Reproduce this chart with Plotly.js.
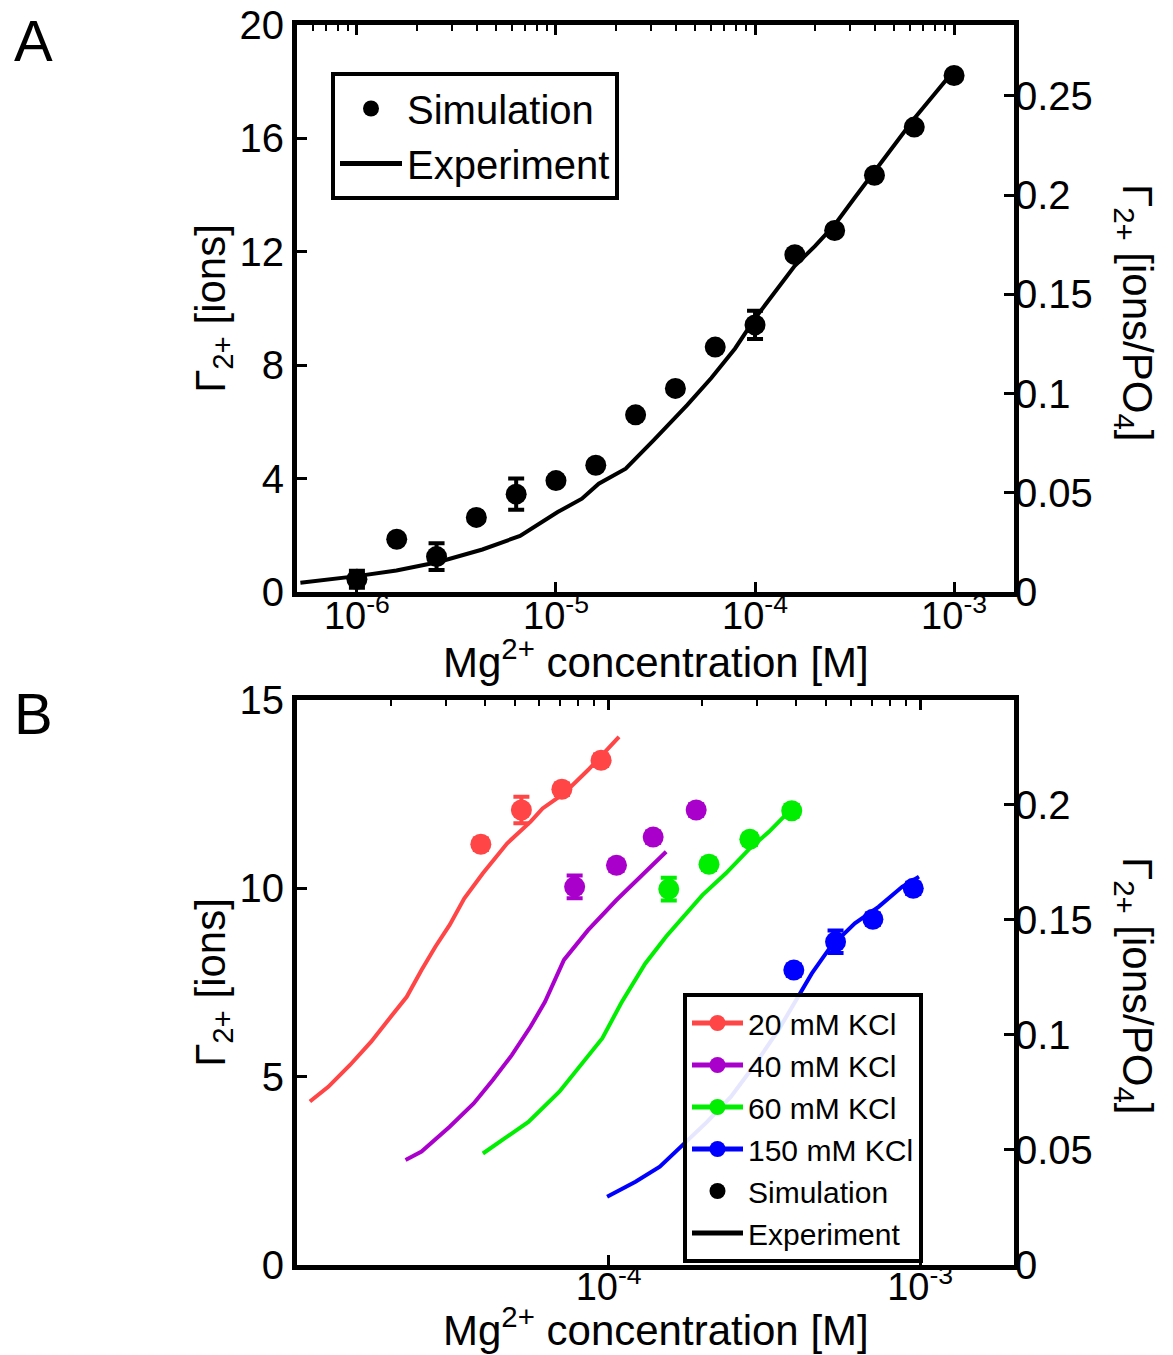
<!DOCTYPE html>
<html><head><meta charset="utf-8">
<script src="https://cdn.plot.ly/plotly-3.0.1.min.js"></script>
<style>html,body{margin:0;padding:0;background:#fff}#plot{width:1173px;height:1355px}</style>
</head><body><div id="plot"></div>
<script>
// ---------- Panel A data ----------
const simA_x = [1e-6, 1.585e-6, 2.512e-6, 3.981e-6, 6.310e-6, 1e-5, 1.585e-5, 2.512e-5, 3.981e-5, 6.310e-5, 1e-4, 1.585e-4, 2.512e-4, 3.981e-4, 6.310e-4, 1e-3];
const simA_y = [0.45, 1.86, 1.25, 2.63, 3.45, 3.93, 4.47, 6.25, 7.18, 8.64, 9.42, 11.9, 12.75, 14.7, 16.4, 18.22];
const simA_err = [0.3, 0.15, 0.47, 0.15, 0.55, 0.15, 0.15, 0.15, 0.15, 0.15, 0.5, 0.15, 0.15, 0.15, 0.15, 0.15];
const expA_x = [5.2e-7, 1.0e-6, 1.58e-6, 2.57e-6, 4.27e-6, 6.6e-6, 1.02e-5, 1.35e-5, 1.64e-5, 2.24e-5, 3.09e-5, 4.57e-5, 6.03e-5, 7.94e-5, 1.0e-4, 1.26e-4, 1.58e-4, 2.0e-4, 2.51e-4, 3.16e-4, 3.98e-4, 5.0e-4, 6.31e-4, 7.94e-4, 1.0e-3];
const expA_y = [0.33, 0.56, 0.76, 1.06, 1.5, 1.98, 2.82, 3.29, 3.82, 4.35, 5.35, 6.6, 7.55, 8.59, 9.65, 10.6, 11.5, 12.2, 12.95, 13.9, 14.85, 15.8, 16.7, 17.55, 18.4];

// ---------- Panel B data ----------
const seriesNames = ['20 mM KCl', '40 mM KCl', '60 mM KCl', '150 mM KCl'];
const seriesColors = ['#ff4545', '#aa00cc', '#00ee00', '#0000ff'];

const red_exp_x = [1.10e-5, 1.26e-5, 1.48e-5, 1.73e-5, 2.0e-5, 2.25e-5, 2.51e-5, 2.78e-5, 3.09e-5, 3.44e-5, 3.95e-5, 4.72e-5, 5.62e-5, 6.14e-5, 7.19e-5, 8.59e-5, 1.08e-4];
const red_exp_y = [4.34, 4.73, 5.31, 5.93, 6.59, 7.12, 7.83, 8.45, 9.03, 9.73, 10.4, 11.19, 11.77, 12.12, 12.52, 13.14, 14.02];
const purple_exp_x = [2.23e-5, 2.51e-5, 3.09e-5, 3.69e-5, 4.25e-5, 4.89e-5, 5.62e-5, 6.25e-5, 7.19e-5, 8.59e-5, 1.06e-4, 1.26e-4, 1.53e-4];
const purple_exp_y = [2.79, 3.01, 3.67, 4.29, 4.91, 5.57, 6.33, 6.99, 8.1, 8.89, 9.69, 10.31, 10.97];
const green_exp_x = [3.95e-5, 4.56e-5, 5.53e-5, 6.95e-5, 8.0e-5, 9.55e-5, 1.10e-4, 1.31e-4, 1.53e-4, 1.80e-4, 2.0e-4, 2.38e-4, 2.84e-4, 3.27e-4, 3.70e-4];
const green_exp_y = [2.96, 3.32, 3.8, 4.6, 5.22, 6.02, 6.97, 8.0, 8.72, 9.38, 9.82, 10.4, 11.06, 11.5, 11.95];
const blue_exp_x = [9.89e-5, 1.22e-4, 1.46e-4, 1.73e-4, 2.07e-4, 2.47e-4, 2.94e-4, 3.51e-4, 4.04e-4, 4.49e-4, 5.16e-4, 6.17e-4, 7.35e-4, 8.75e-4, 9.91e-4];
const blue_exp_y = [1.81, 2.21, 2.61, 3.19, 3.8, 4.47, 5.31, 6.24, 7.12, 7.74, 8.45, 9.07, 9.51, 10.04, 10.31];

const red_sim_x = [3.89e-5, 5.25e-5, 7.08e-5, 9.46e-5];
const red_sim_y = [11.17, 12.08, 12.63, 13.4];
const red_sim_err = [0.15, 0.35, 0.15, 0.15];
const purple_sim_x = [7.78e-5, 1.06e-4, 1.39e-4, 1.91e-4];
const purple_sim_y = [10.04, 10.61, 11.36, 12.08];
const purple_sim_err = [0.3, 0.15, 0.15, 0.15];
const green_sim_x = [1.56e-4, 2.10e-4, 2.84e-4, 3.87e-4];
const green_sim_y = [9.98, 10.64, 11.3, 12.06];
const green_sim_err = [0.3, 0.15, 0.15, 0.15];
const blue_sim_x = [3.93e-4, 5.35e-4, 7.05e-4, 9.50e-4];
const blue_sim_y = [7.83, 8.58, 9.18, 10.0];
const blue_sim_err = [0.15, 0.3, 0.15, 0.15];

const expB = [[red_exp_x, red_exp_y], [purple_exp_x, purple_exp_y], [green_exp_x, green_exp_y], [blue_exp_x, blue_exp_y]];
const simB = [[red_sim_x, red_sim_y, red_sim_err], [purple_sim_x, purple_sim_y, purple_sim_err], [green_sim_x, green_sim_y, green_sim_err], [blue_sim_x, blue_sim_y, blue_sim_err]];

// ticks
const majorA = [1e-6, 1e-5, 1e-4, 1e-3];
const majorA_text = ['10<sup>-6</sup>', '10<sup>-5</sup>', '10<sup>-4</sup>', '10<sup>-3</sup>'];
const majorB = [1e-4, 1e-3];
const majorB_text = ['10<sup>-4</sup>', '10<sup>-3</sup>'];
const minorTicks = [];
for (let d = -7; d <= -3; d++) for (let m = 2; m <= 9; m++) minorTicks.push(m * Math.pow(10, d));

const xTitle = 'Mg<sup>2+</sup> concentration [M]';
const yTitleL = 'Γ<sub>2+</sub> [ions]';
const yTitleR = 'Γ<sub>2+</sub> [ions/PO<sub>4</sub>]';

const FONT = 'Liberation Sans, Arial, Helvetica, sans-serif';
const MS = 21;

const traces = [];
// Panel A
traces.push({x: expA_x, y: expA_y, mode: 'lines', name: 'Experiment', line: {color: 'black', width: 4},
  xaxis: 'x', yaxis: 'y', legend: 'legend', showlegend: false});
traces.push({x: simA_x, y: simA_y, mode: 'markers', name: 'Simulation', marker: {color: 'black', size: MS},
  error_y: {type: 'data', array: simA_err, visible: true, color: 'black', thickness: 4, width: 8},
  xaxis: 'x', yaxis: 'y', legend: 'legend', showlegend: false});
traces.push({x: [null], y: [null], mode: 'markers', name: 'Simulation', marker: {color: 'black', size: MS}, xaxis: 'x', yaxis: 'y', legend: 'legend'});
traces.push({x: [null], y: [null], mode: 'lines', name: 'Experiment', line: {color: 'black', width: 5}, xaxis: 'x', yaxis: 'y', legend: 'legend'});
traces.push({x: [], y: [], xaxis: 'x3', yaxis: 'y2', showlegend: false, hoverinfo: 'skip'});

// Panel B
for (let i = 0; i < 4; i++) {
  traces.push({x: expB[i][0], y: expB[i][1], mode: 'lines', line: {color: seriesColors[i], width: 4},
    xaxis: 'x2', yaxis: 'y3', showlegend: false, name: seriesNames[i]});
}
for (let i = 0; i < 4; i++) {
  traces.push({x: simB[i][0], y: simB[i][1], mode: 'markers', marker: {color: seriesColors[i], size: MS},
    error_y: {type: 'data', array: simB[i][2], visible: true, color: seriesColors[i], thickness: 4, width: 8},
    xaxis: 'x2', yaxis: 'y3', showlegend: false, name: seriesNames[i]});
}
for (let i = 0; i < 4; i++) {
  traces.push({x: [null], y: [null], mode: 'lines+markers', name: seriesNames[i],
    line: {color: seriesColors[i], width: 5}, marker: {color: seriesColors[i], size: MS},
    xaxis: 'x2', yaxis: 'y3', legend: 'legend2'});
}
traces.push({x: [null], y: [null], mode: 'markers', name: 'Simulation', marker: {color: 'black', size: MS}, xaxis: 'x2', yaxis: 'y3', legend: 'legend2'});
traces.push({x: [null], y: [null], mode: 'lines', name: 'Experiment', line: {color: 'black', width: 5}, xaxis: 'x2', yaxis: 'y3', legend: 'legend2'});
traces.push({x: [], y: [], xaxis: 'x4', yaxis: 'y4', showlegend: false, hoverinfo: 'skip'});

const W = 1173, H = 1355;
const xDom = [297 / W, 1014 / W];
const yDomA = [1 - 592 / H, 1 - 25 / H];
const yDomB = [1 - 1265 / H, 1 - 700 / H];

const tickFont = {family: FONT, size: 40, color: 'black'};
const xTickFont = {family: FONT, size: 38, color: 'black'};
const base = {showline: true, linecolor: 'black', linewidth: 5, ticks: 'inside', ticklen: 10, tickwidth: 3,
  tickcolor: 'black', showgrid: false, zeroline: false, tickfont: tickFont, fixedrange: true};
const titleFont = {family: FONT, size: 42, color: 'black'};

function ann(text, xp, yp, size, angle) {
  return {text: text, xref: 'paper', yref: 'paper', x: xp / W, y: 1 - yp / H, xanchor: 'center', yanchor: 'middle',
    textangle: angle || 0, showarrow: false, font: {family: FONT, size: size, color: 'black'}};
}

const layout = {
  width: W, height: H,
  margin: {l: 0, r: 0, t: 0, b: 0},
  paper_bgcolor: 'white', plot_bgcolor: 'white',
  font: {family: FONT, color: 'black'},
  hovermode: false,
  xaxis: Object.assign({}, base, {domain: xDom, anchor: 'y', type: 'log', range: [Math.log10(5e-7), Math.log10(2e-3)],
    tickmode: 'array', tickvals: majorA, ticktext: majorA_text, mirror: true, ticklabelstandoff: -14, tickfont: xTickFont}),
  yaxis: Object.assign({}, base, {domain: yDomA, anchor: 'x', range: [0, 20], dtick: 4, mirror: true,
    title: {text: yTitleL, font: titleFont, standoff: 0}}),
  yaxis2: Object.assign({}, base, {overlaying: 'y', side: 'right', anchor: 'x', range: [0, 20 / 70], dtick: 0.05, showline: false}),
  xaxis3: Object.assign({}, base, {overlaying: 'x', side: 'top', anchor: 'y', type: 'log', range: [Math.log10(5e-7), Math.log10(2e-3)],
    tickmode: 'array', tickvals: majorA, showticklabels: false, showline: false,
    minor: {tickmode: 'array', tickvals: minorTicks, ticks: 'inside', ticklen: 6, tickwidth: 2, tickcolor: 'black'}}),

  xaxis2: Object.assign({}, base, {domain: xDom, anchor: 'y3', type: 'log', range: [-5, Math.log10(2e-3)],
    tickmode: 'array', tickvals: majorB, ticktext: majorB_text, mirror: true, ticklabelstandoff: -16, tickfont: xTickFont}),
  yaxis3: Object.assign({}, base, {domain: yDomB, anchor: 'x2', range: [0, 15], dtick: 5, mirror: true,
    title: {text: yTitleL, font: titleFont, standoff: 0}}),
  yaxis4: Object.assign({}, base, {overlaying: 'y3', side: 'right', anchor: 'x2', range: [0, 0.2455], dtick: 0.05, showline: false}),
  xaxis4: Object.assign({}, base, {overlaying: 'x2', side: 'top', anchor: 'y3', type: 'log', range: [-5, Math.log10(2e-3)],
    tickmode: 'array', tickvals: majorB, showticklabels: false, showline: false,
    minor: {tickmode: 'array', tickvals: minorTicks, ticks: 'inside', ticklen: 6, tickwidth: 2, tickcolor: 'black'}}),

  legend: {x: 331 / W, y: 1 - 72 / H, xanchor: 'left', yanchor: 'top', bgcolor: 'white', bordercolor: 'black', borderwidth: 4,
    font: {family: FONT, size: 40, color: 'black'}, itemwidth: 62, tracegroupgap: 0},
  legend2: {x: 683 / W, y: 1 - 993 / H, xanchor: 'left', yanchor: 'top', bgcolor: 'rgba(255,255,255,0.9)', bordercolor: 'black', borderwidth: 4,
    font: {family: FONT, size: 30, color: 'black'}, itemwidth: 51, tracegroupgap: 0},

  annotations: [
    ann('A', 33, 40, 58),
    ann('B', 33, 713, 58),
    ann(xTitle, 656, 659, 42),
    ann(xTitle, 656, 1327, 42),
    ann(yTitleR, 1135, 312, 42, 90),
    ann(yTitleR, 1135, 985, 42, 90)
  ]
};

Plotly.newPlot('plot', traces, layout, {staticPlot: true, displayModeBar: false});
</script>
</body></html>
